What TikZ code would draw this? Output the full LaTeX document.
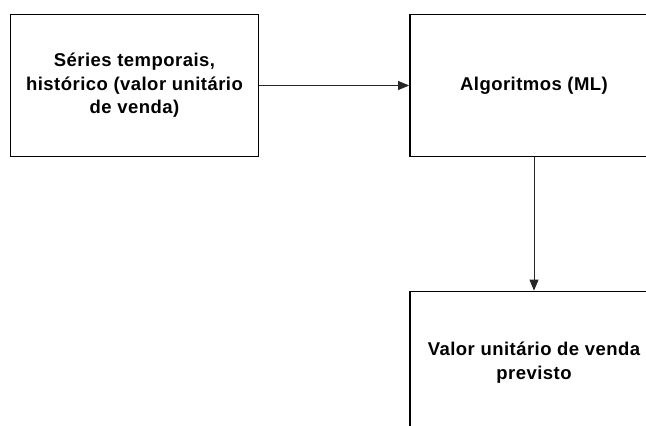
\documentclass[tikz,border=0pt]{standalone}
\usepackage{fontspec}
\setmainfont{Liberation Sans}
\usetikzlibrary{arrows.meta}
\begin{document}
\begin{tikzpicture}[x=1pt,y=-1pt,
  box/.style={draw=black,line width=1.8pt,minimum width=248pt,minimum height=142pt,
    align=center,inner sep=0pt,
    font=\fontsize{18.5pt}{23.5pt}\selectfont\bfseries\addfontfeatures{LetterSpace=2.5}},
  link/.style={draw=black!85,line width=0.8pt,-{Triangle[length=11pt,width=9pt]}}]
  \clip (0,0) rectangle (646,426);
  \useasboundingbox (0,0) rectangle (646,426);
  \fill[white] (0,0) rectangle (646,426);
  \node[box] (src) at (134.5,85.5) {Séries temporais,\\histórico (valor unitário\\de venda)};
  \node[box] (alg) at (534,85.5) {Algoritmos (ML)};
  \node[box] (out) at (534,362.5) {Valor unitário de venda\\previsto};
  \draw[link] (src.east) -- (alg.west);
  \draw[link] (alg.south) -- (out.north);
\end{tikzpicture}
\end{document}
